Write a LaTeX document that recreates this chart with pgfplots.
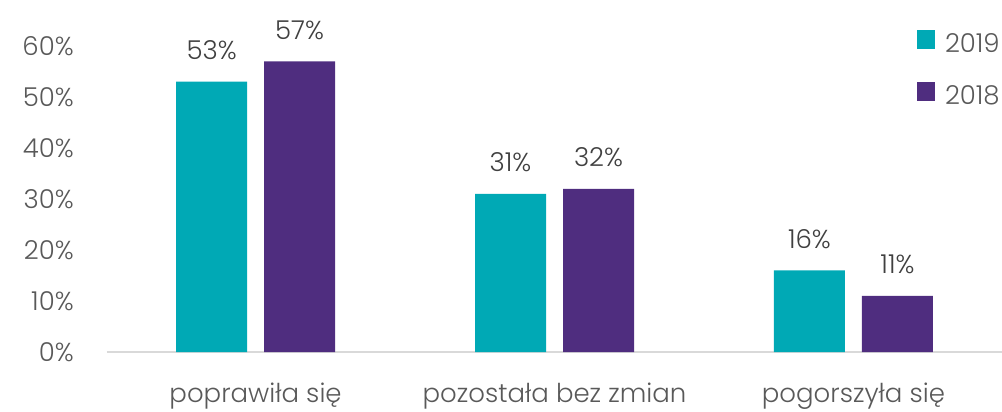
\documentclass[border=0pt]{standalone}
\usepackage{fontspec}
\setmainfont{Poppins}[UprightFont=* Light]
\usepackage{pgfplots}
\pgfplotsset{compat=1.18}
\definecolor{teal19}{RGB}{0,169,181}
\definecolor{purp18}{RGB}{79,45,127}
\definecolor{ticklab}{RGB}{89,89,89}
\definecolor{datalab}{RGB}{64,64,64}
\newcommand{\chfont}{\fontsize{19.5}{23}\selectfont}
\begin{document}
\begin{tikzpicture}
\begin{axis}[
  at={(0,0)}, anchor=south west,
  scale only axis, width=671.25pt, height=229.5pt,
  xmin=-0.497, xmax=2.497, ymin=0, ymax=60,
  ybar, bar width=53.25pt,
  axis x line*=bottom, axis y line*=left,
  x axis line style={draw=black!15, line width=1.5pt, -},
  y axis line style={draw=none},
  xtick={0,1,2},
  xticklabels={poprawiła się, pozostała bez zmian, pogorszyła się},
  ytick={0,10,...,60},
  major tick length=0pt,
  tick style={draw=none},
  yticklabel={\pgfmathprintnumber{\tick}\%},
  /pgf/number format/assume math mode=true,
  ticklabel style={font=\chfont, text=ticklab},
  yticklabel style={anchor=east, inner sep=0pt, xshift=-24.75pt},
  xticklabel style={anchor=base, inner sep=0pt, yshift=-37.5pt},
  nodes near coords={\pgfmathprintnumber{\pgfplotspointmeta}\%},
  nodes near coords style={font=\chfont, text=datalab, anchor=base, inner sep=0pt, yshift=16.5pt},
  clip=false,
  legend style={at={(1,1)}, anchor=north east, xshift=-1.5pt, yshift=12pt,
    draw=none, fill=none, inner sep=0pt, font=\chfont, text=ticklab,
    nodes={inner sep=0pt}, row sep=21pt,
    /tikz/every odd column/.append style={column sep=7.5pt}},
  legend cell align=left,
  legend image code/.code={\fill[#1] (0pt,-3.75pt) rectangle (13.5pt,10.05pt);},
]
\addplot[fill=teal19, draw=none, bar shift=-33pt] coordinates {(0,53) (1,31) (2,16)};
\addlegendentry{2019}
\addplot[fill=purp18, draw=none, bar shift=33pt] coordinates {(0,57) (1,32) (2,11)};
\addlegendentry{2018}
\end{axis}
\pgfresetboundingbox
\path (-80.25pt,-44.25pt) rectangle (671.25pt,264pt);
\end{tikzpicture}
\end{document}
